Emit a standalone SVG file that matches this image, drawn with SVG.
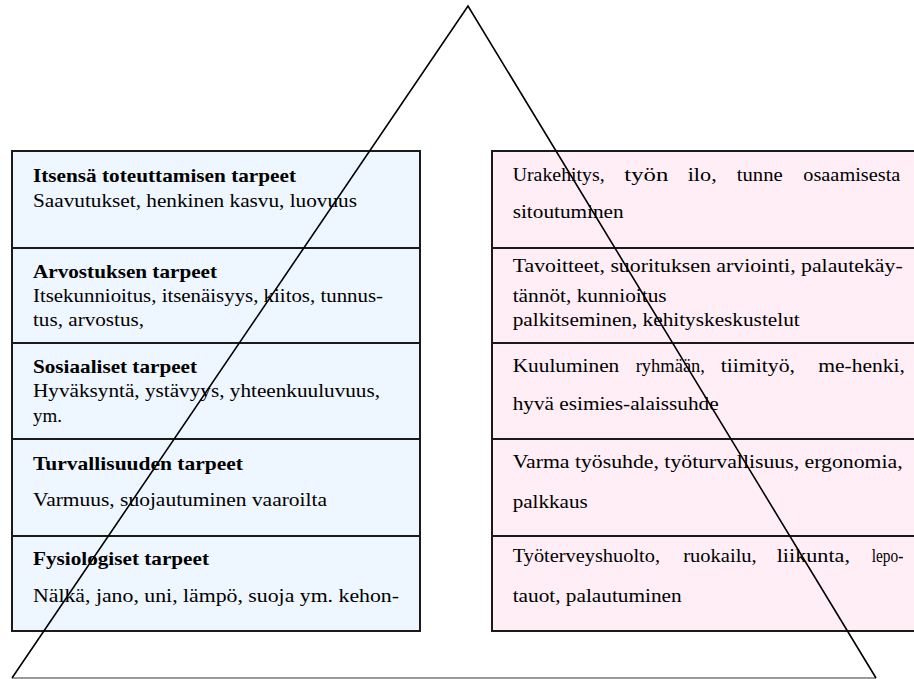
<svg xmlns="http://www.w3.org/2000/svg" width="914" height="679" viewBox="0 0 914 679" font-family="Liberation Serif, Times New Roman, serif" style="font-family:'Liberation Serif','Times New Roman',serif">
<style>
.lb{fill:#EEF6FF;stroke:#1a1a1a;stroke-width:2}
.rb{fill:#FFEEF5;stroke:#1a1a1a;stroke-width:2}
</style>
<rect width="914" height="679" fill="#fff"/>
<g id="left-1"><rect class="lb" x="12" y="151" width="408" height="97"/>
<text font-family="Liberation Serif, Times New Roman, serif" font-size="19" font-weight="bold" x="33" y="182" textLength="263" lengthAdjust="spacingAndGlyphs">Itsensä toteuttamisen tarpeet</text>
<text font-family="Liberation Serif, Times New Roman, serif" font-size="19" x="33" y="207" textLength="324" lengthAdjust="spacingAndGlyphs">Saavutukset, henkinen kasvu, luovuus</text></g>
<g id="left-2"><rect class="lb" x="12" y="248" width="408" height="95"/>
<text font-family="Liberation Serif, Times New Roman, serif" font-size="19" font-weight="bold" x="33" y="278" textLength="184" lengthAdjust="spacingAndGlyphs">Arvostuksen tarpeet</text>
<text font-family="Liberation Serif, Times New Roman, serif" font-size="19" x="33" y="302" textLength="350" lengthAdjust="spacingAndGlyphs">Itsekunnioitus, itsenäisyys, kiitos, tunnus-</text>
<text font-family="Liberation Serif, Times New Roman, serif" font-size="19" x="33" y="326" textLength="111" lengthAdjust="spacingAndGlyphs">tus, arvostus,</text></g>
<g id="left-3"><rect class="lb" x="12" y="343" width="408" height="96"/>
<text font-family="Liberation Serif, Times New Roman, serif" font-size="19" font-weight="bold" x="33" y="373" textLength="164" lengthAdjust="spacingAndGlyphs">Sosiaaliset tarpeet</text>
<text font-family="Liberation Serif, Times New Roman, serif" font-size="19" x="33" y="397" textLength="347" lengthAdjust="spacingAndGlyphs">Hyväksyntä, ystävyys, yhteenkuuluvuus,</text>
<text font-family="Liberation Serif, Times New Roman, serif" font-size="19" x="33" y="422" textLength="29" lengthAdjust="spacingAndGlyphs">ym.</text></g>
<g id="left-4"><rect class="lb" x="12" y="439" width="408" height="97"/>
<text font-family="Liberation Serif, Times New Roman, serif" font-size="19" font-weight="bold" x="33" y="470" textLength="210" lengthAdjust="spacingAndGlyphs">Turvallisuuden tarpeet</text>
<text font-family="Liberation Serif, Times New Roman, serif" font-size="19" x="33" y="506" textLength="294" lengthAdjust="spacingAndGlyphs">Varmuus, suojautuminen vaaroilta</text></g>
<g id="left-5"><rect class="lb" x="12" y="536" width="408" height="95"/>
<text font-family="Liberation Serif, Times New Roman, serif" font-size="19" font-weight="bold" x="33" y="565" textLength="176" lengthAdjust="spacingAndGlyphs">Fysiologiset tarpeet</text>
<text font-family="Liberation Serif, Times New Roman, serif" font-size="19" x="33" y="602" textLength="366" lengthAdjust="spacingAndGlyphs">Nälkä, jano, uni, lämpö, suoja ym. kehon-</text></g>
<g id="right-1"><rect class="rb" x="492" y="151" width="430" height="97"/>
<text font-family="Liberation Serif, Times New Roman, serif" font-size="19" x="512.7" y="181" textLength="92" lengthAdjust="spacingAndGlyphs">Urakehitys,</text>
<text font-family="Liberation Serif, Times New Roman, serif" font-size="19" x="624.3" y="181" textLength="44" lengthAdjust="spacingAndGlyphs">työn</text>
<text font-family="Liberation Serif, Times New Roman, serif" font-size="19" x="687.7" y="181" textLength="29" lengthAdjust="spacingAndGlyphs">ilo,</text>
<text font-family="Liberation Serif, Times New Roman, serif" font-size="19" x="736.7" y="181" textLength="46" lengthAdjust="spacingAndGlyphs">tunne</text>
<text font-family="Liberation Serif, Times New Roman, serif" font-size="19" x="803.3" y="181" textLength="97" lengthAdjust="spacingAndGlyphs">osaamisesta</text>
<text font-family="Liberation Serif, Times New Roman, serif" font-size="19" x="512.7" y="218" textLength="111" lengthAdjust="spacingAndGlyphs">sitoutuminen</text></g>
<g id="right-2"><rect class="rb" x="492" y="248" width="430" height="95"/>
<text font-family="Liberation Serif, Times New Roman, serif" font-size="19" x="512.7" y="272" textLength="390" lengthAdjust="spacingAndGlyphs">Tavoitteet, suorituksen arviointi, palautekäy-</text>
<text font-family="Liberation Serif, Times New Roman, serif" font-size="19" x="512.7" y="302" textLength="154" lengthAdjust="spacingAndGlyphs">tännöt, kunnioitus</text>
<text font-family="Liberation Serif, Times New Roman, serif" font-size="19" x="512.7" y="326" textLength="287" lengthAdjust="spacingAndGlyphs">palkitseminen, kehityskeskustelut</text></g>
<g id="right-3"><rect class="rb" x="492" y="343" width="430" height="96"/>
<text font-family="Liberation Serif, Times New Roman, serif" font-size="19" x="512.7" y="372" textLength="106.6" lengthAdjust="spacingAndGlyphs">Kuuluminen</text>
<text font-family="Liberation Serif, Times New Roman, serif" font-size="19" x="635.7" y="372" textLength="69.3" lengthAdjust="spacingAndGlyphs">ryhmään,</text>
<text font-family="Liberation Serif, Times New Roman, serif" font-size="19" x="720.7" y="372" textLength="74.3" lengthAdjust="spacingAndGlyphs">tiimityö,</text>
<text font-family="Liberation Serif, Times New Roman, serif" font-size="19" x="818.3" y="372" textLength="86.7" lengthAdjust="spacingAndGlyphs">me-henki,</text>
<text font-family="Liberation Serif, Times New Roman, serif" font-size="19" x="512.7" y="410" textLength="206" lengthAdjust="spacingAndGlyphs">hyvä esimies-alaissuhde</text></g>
<g id="right-4"><rect class="rb" x="492" y="439" width="430" height="97"/>
<text font-family="Liberation Serif, Times New Roman, serif" font-size="19" x="512.7" y="468" textLength="390" lengthAdjust="spacingAndGlyphs">Varma työsuhde, työturvallisuus, ergonomia,</text>
<text font-family="Liberation Serif, Times New Roman, serif" font-size="19" x="512.7" y="508" textLength="75" lengthAdjust="spacingAndGlyphs">palkkaus</text></g>
<g id="right-5"><rect class="rb" x="492" y="536" width="430" height="95"/>
<text font-family="Liberation Serif, Times New Roman, serif" font-size="19" x="512.7" y="562" textLength="147.3" lengthAdjust="spacingAndGlyphs">Työterveyshuolto,</text>
<text font-family="Liberation Serif, Times New Roman, serif" font-size="19" x="683.3" y="562" textLength="73.4" lengthAdjust="spacingAndGlyphs">ruokailu,</text>
<text font-family="Liberation Serif, Times New Roman, serif" font-size="19" x="776.7" y="562" textLength="73.3" lengthAdjust="spacingAndGlyphs">liikunta,</text>
<text font-family="Liberation Serif, Times New Roman, serif" font-size="19" x="871.7" y="562" textLength="31.6" lengthAdjust="spacingAndGlyphs">lepo-</text>
<text font-family="Liberation Serif, Times New Roman, serif" font-size="19" x="512.7" y="602" textLength="169" lengthAdjust="spacingAndGlyphs">tauot, palautuminen</text></g>
<g id="connectors">
<line x1="12" y1="678" x2="876" y2="678" stroke="#9a9a9a" stroke-width="2"/>
<polyline points="12,678 468,6 876,678" fill="none" stroke="#000" stroke-width="1.6"/>
</g>
</svg>
